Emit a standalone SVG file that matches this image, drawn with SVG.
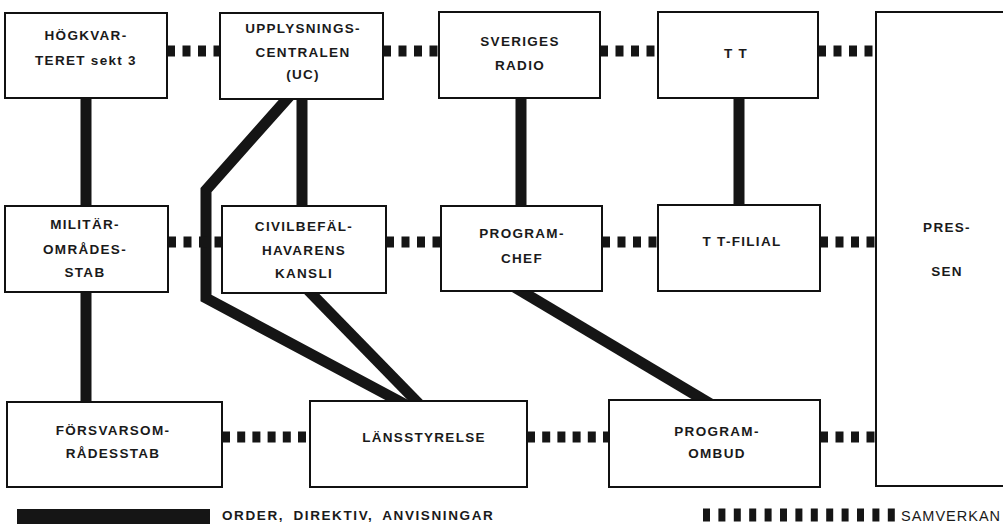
<svg xmlns="http://www.w3.org/2000/svg" width="1003" height="524" viewBox="0 0 1003 524">
<style>
.box{fill:#fff;stroke:#111;stroke-width:2}
.t{font-family:"Liberation Sans",Arial,sans-serif;font-weight:bold;font-size:13.5px;letter-spacing:1.3px;fill:#1a1a1a;text-anchor:middle}
.lg{font-family:"Liberation Sans",Arial,sans-serif;font-weight:bold;font-size:13.5px;letter-spacing:1.6px;fill:#1a1a1a}
.solid{fill:none;stroke:#151515;stroke-width:11;stroke-linejoin:miter}
.dash{fill:none;stroke:#151515;stroke-width:11;stroke-dasharray:8 7.5}
.dash6{fill:none;stroke:#151515;stroke-width:11;stroke-dasharray:8 7.2}
</style>
<rect width="1003" height="524" fill="#fff"/>
<g id="connectors">
<line class="solid" x1="86" y1="98" x2="86" y2="206"/>
<line class="solid" x1="86" y1="292" x2="86" y2="402"/>
<line class="solid" x1="302" y1="99" x2="302" y2="206"/>
<polyline class="solid" points="292.3,93 206,190 206,298 410,407"/>
<line class="solid" x1="305" y1="287" x2="422" y2="407"/>
<line class="solid" x1="521" y1="98" x2="521" y2="206"/>
<line class="solid" x1="739" y1="98" x2="739" y2="205"/>
<line class="solid" x1="511" y1="285" x2="714" y2="406"/>
<line class="dash" x1="167" y1="51" x2="220" y2="51"/>
<line class="dash" x1="383" y1="51" x2="439" y2="51"/>
<line class="dash" x1="600" y1="51" x2="658" y2="51"/>
<line class="dash" x1="818" y1="51" x2="876" y2="51"/>
<line class="dash" x1="168" y1="242" x2="222" y2="242"/>
<line class="dash" x1="386" y1="242" x2="441" y2="242"/>
<line class="dash" x1="602" y1="242" x2="658" y2="242"/>
<line class="dash" x1="820" y1="242" x2="876" y2="242"/>
<line class="dash6" x1="222" y1="437" x2="310" y2="437"/>
<line class="dash6" x1="527" y1="437" x2="609" y2="437"/>
<line class="dash" x1="820" y1="437" x2="876" y2="437"/>
</g>
<g id="hogkvarteret"><rect class="box" x="5" y="13" width="162" height="85"/>
<text class="t" x="86" y="40">HÖGKVAR-</text><text class="t" x="86" y="65">TERET sekt 3</text></g>
<g id="upplysningscentralen"><rect class="box" x="220" y="13" width="163" height="86"/>
<text class="t" x="303" y="33">UPPLYSNINGS-</text><text class="t" x="303" y="57">CENTRALEN</text><text class="t" x="303" y="79">(UC)</text></g>
<g id="sveriges-radio"><rect class="box" x="439" y="12" width="161" height="86"/>
<text class="t" x="520" y="46">SVERIGES</text><text class="t" x="520" y="70">RADIO</text></g>
<g id="tt"><rect class="box" x="658" y="12" width="160" height="86"/>
<text class="t" x="736" y="58">T T</text></g>
<g id="pressen"><rect class="box" x="876" y="12" width="140" height="474"/>
<text class="t" x="947" y="232">PRES-</text><text class="t" x="947" y="276">SEN</text></g>
<g id="militaromradesstab"><rect class="box" x="5" y="206" width="163" height="86"/>
<text class="t" x="85" y="229">MILITÄR-</text><text class="t" x="85" y="254">OMRÅDES-</text><text class="t" x="85" y="277">STAB</text></g>
<g id="civilbefalhavarens-kansli"><rect class="box" x="222" y="206" width="164" height="87"/>
<text class="t" x="304" y="231">CIVILBEFÄL-</text><text class="t" x="304" y="255">HAVARENS</text><text class="t" x="304" y="278">KANSLI</text></g>
<g id="programchef"><rect class="box" x="441" y="206" width="161" height="85"/>
<text class="t" x="522" y="238">PROGRAM-</text><text class="t" x="522" y="263">CHEF</text></g>
<g id="tt-filial"><rect class="box" x="658" y="205" width="162" height="86"/>
<text class="t" x="742" y="246">T T-FILIAL</text></g>
<g id="forsvarsomradesstab"><rect class="box" x="7" y="402" width="215" height="85"/>
<text class="t" x="113" y="435">FÖRSVARSOM-</text><text class="t" x="113" y="458">RÅDESSTAB</text></g>
<g id="lansstyrelse"><rect class="box" x="310" y="401" width="217" height="86"/>
<text class="t" x="424" y="442">LÄNSSTYRELSE</text></g>
<g id="programombud"><rect class="box" x="609" y="400" width="211" height="87"/>
<text class="t" x="717" y="436">PROGRAM-</text><text class="t" x="717" y="458">OMBUD</text></g>
<g id="legend">
<rect x="17" y="509" width="193" height="16" fill="#151515"/>
<text class="lg" x="222" y="520" word-spacing="4">ORDER, DIREKTIV, ANVISNINGAR</text>
<line x1="703" y1="515" x2="896" y2="515" stroke="#151515" stroke-width="13" stroke-dasharray="7 8.4"/>
<text class="lg" x="901" y="521" style="font-weight:normal;font-size:14.5px;letter-spacing:1px">SAMVERKAN</text>
</g>
</svg>
